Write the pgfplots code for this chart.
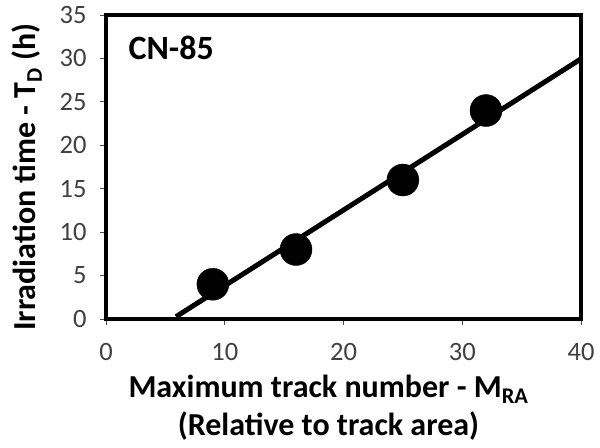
\documentclass[border=0pt]{standalone}
\usepackage{pgfplots}
\pgfplotsset{compat=1.18}
\usepackage{fontspec}
\setmainfont{Carlito}
\begin{document}
\begin{tikzpicture}
\begin{axis}[
  scale only axis, width=475bp, height=304bp,
  xmin=0, xmax=40, ymin=0, ymax=35,
  xtick={0,10,...,40}, ytick={0,5,...,35},
  xtick pos=bottom, ytick pos=left,
  tick align=outside, major tick length=6bp,
  tick style={black!70, line width=0.8bp},
  axis line style={line width=3.8bp},
  /pgf/number format/assume math mode=true,
  tick label style={font=\fontsize{26.5bp}{28bp}\selectfont, color=black!75},
  yticklabel style={xshift=-10bp},
  xticklabel style={yshift=-15bp},
  xlabel={\textbf{Maximum track number - M\textsubscript{RA}}\\\textbf{(Relative to track area)}},
  every axis x label/.style={at={(axis description cs:0.5,0)}, anchor=north, align=center, font=\fontsize{32bp}{38bp}\selectfont, yshift=-53bp, xshift=-15bp},
  ylabel={\textbf{Irradiation time - T\textsubscript{D} (h)}},
  every axis y label/.style={at={(axis description cs:-0.1663,0.467)}, anchor=center, rotate=90, font=\fontsize{32bp}{35bp}\selectfont},
  clip=false,
]
\addplot[black, line width=5bp] coordinates {(5.9,0.27) (40,29.95)};
\addplot[only marks, mark=*, mark size=16bp, black] coordinates {(9,4) (16,8) (25,16) (32,24)};
\node[anchor=west, font=\fontsize{34bp}{36bp}\selectfont\bfseries] at (axis cs:1.6,31.2) {CN-85};
\end{axis}
\pgfresetboundingbox
\path (current axis.south west) ++(-106bp,-128bp) rectangle ([xshift=19bp,yshift=15bp]current axis.north east);
\end{tikzpicture}
\end{document}
